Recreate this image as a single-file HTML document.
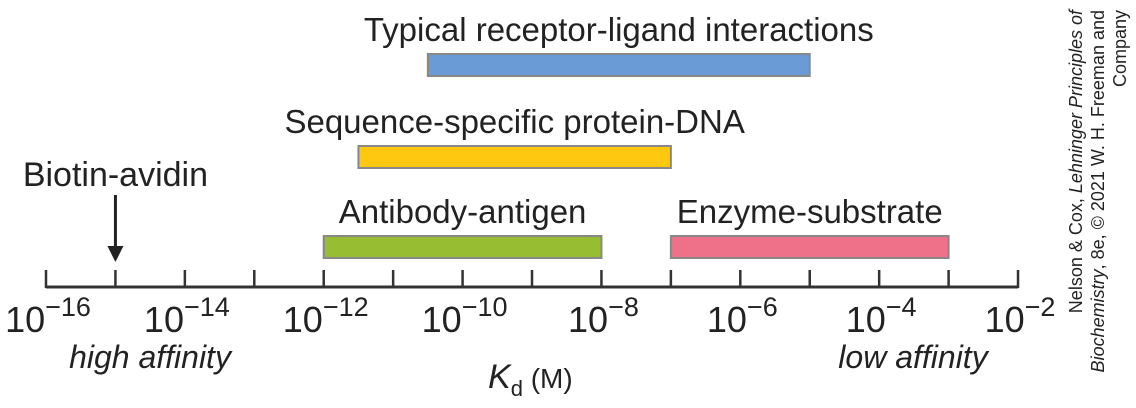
<!DOCTYPE html>
<html><head><meta charset="utf-8"><style>
body{margin:0;background:#fff;}
svg{display:block;font-family:"Liberation Sans",sans-serif;}
</style></head><body>
<svg id="chart" width="1136" height="408" viewBox="0 0 1136 408">
<g id="axis"></g>
<g id="bars"></g>
<g>
<text id="bioLabel" x="116" y="186" font-size="34" text-anchor="middle" fill="#222">Biotin-avidin</text>
<line id="bioLine" x1="116" y1="195" x2="116" y2="250" stroke="#222" stroke-width="3"/>
<polygon id="bioHead" points="108,246 124,246 116,262" fill="#222"/>
</g>
<text x="150" y="368" font-size="32" font-style="italic" text-anchor="middle" fill="#222">high affinity</text>
<text x="913" y="368" font-size="32" font-style="italic" text-anchor="middle" fill="#222">low affinity</text>
<text x="488" y="388" font-size="34" fill="#222"><tspan font-style="italic">K</tspan><tspan font-size="22" dy="8">d</tspan><tspan dy="-8" font-size="28"> (M)</tspan></text>
<g transform="rotate(-90)" font-size="18" fill="#222" text-anchor="end">
<text x="-10" y="1082">Nelson &amp; Cox, <tspan font-style="italic">Lehninger Principles of</tspan></text>
<text x="-10" y="1104"><tspan font-style="italic">Biochemistry</tspan>, 8e, © 2021 W. H. Freeman and</text>
<text x="-10" y="1126">Company</text>
</g>
</svg>
<script>
const tickExps=[-16,-15,-14,-13,-12,-11,-10,-9,-8,-7,-6,-5,-4,-3,-2];
const labelExps=[-16,-14,-12,-10,-8,-6,-4,-2];
const rangeNames=["Typical receptor-ligand interactions","Sequence-specific protein-DNA","Antibody-antigen","Enzyme-substrate"];
const rangeLow=[-10.5,-11.5,-12,-7];
const rangeHigh=[-5,-7,-8,-3];
const rangeColors=["#6a9bd6","#fec810","#97bd33","#ef7189"];
const rangeRow=[0,1,2,2];
const biotinExp=-15;
const NS="http://www.w3.org/2000/svg";
const x=e=>46+(e+16)*69.43;
const rowY=[54,146,236];
function mk(t,a,p){const el=document.createElementNS(NS,t);for(const k in a)el.setAttribute(k,a[k]);p.appendChild(el);return el;}
const ax=document.getElementById('axis');
const ln=mk('line',{x1:x(-16),x2:x(-2),y1:287,y2:287,stroke:'#333','stroke-width':3},ax);


tickExps.forEach(e=>{const t=mk('line',{x1:x(e),x2:x(e),y1:270,y2:288,stroke:'#333','stroke-width':2.5},ax);

});
labelExps.forEach(e=>{const t=mk('text',{x:x(e)+2,y:332,'font-size':36,'text-anchor':'middle',fill:'#222'},ax);


t.innerHTML='10<tspan font-size="27" dy="-16">\u2212'+Math.abs(e)+'</tspan>';});
const bg=document.getElementById('bars');
rangeNames.forEach((n,i)=>{const y=rowY[rangeRow[i]];
const r=mk('rect',{x:x(rangeLow[i]),y:y,width:x(rangeHigh[i])-x(rangeLow[i]),height:22,fill:rangeColors[i],stroke:'#888','stroke-width':2},bg);


const t=mk('text',{x:(x(rangeLow[i])+x(rangeHigh[i]))/2,y:y-13,'font-size':33,'text-anchor':'middle',fill:'#222'},bg);


t.textContent=n;});
const bx=x(biotinExp);
document.getElementById('bioLabel').setAttribute('x',bx);
document.getElementById('bioLine').setAttribute('x1',bx);
document.getElementById('bioLine').setAttribute('x2',bx);
document.getElementById('bioHead').setAttribute('points',`${bx-8},246 ${bx+8},246 ${bx},262`);
</script>
</body></html>
